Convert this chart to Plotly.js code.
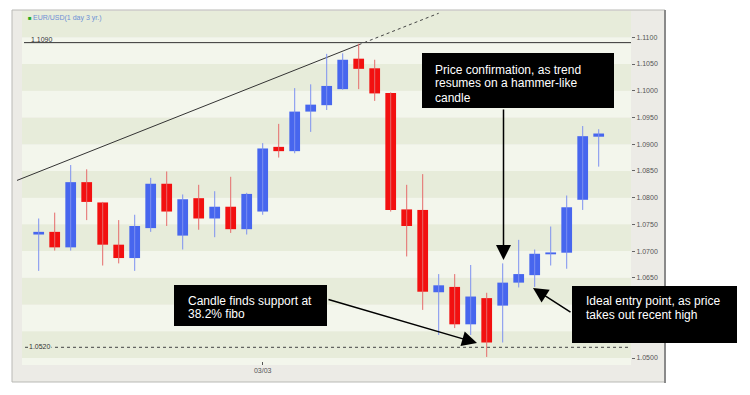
<!DOCTYPE html>
<html><head><meta charset="utf-8">
<script src="https://cdn.plot.ly/plotly-3.0.1.min.js"></script>
<style>html,body{margin:0;padding:0;background:#fff;}#chart{width:750px;height:395px;}</style>
</head><body><div id="chart"></div>
<script>
// ---- data (EUR/USD daily candles) ----
const openP  = [1.0731,1.0736,1.0707,1.0829,1.0791,1.0712,1.0687,1.0743,1.0826,1.0729,1.0799,1.0761,1.0783,1.0741,1.0774,1.0895,1.0887,1.0961,1.0973,1.1003,1.1060,1.1042,1.0996,1.0778,1.0777,1.0623,1.0633,1.0563,1.0612,1.0598,1.0641,1.0655,1.0694,1.0697,1.0796,1.0914];
const highP  = [1.0761,1.0772,1.0861,1.0853,1.0792,1.0758,1.0768,1.0837,1.0849,1.0806,1.0824,1.0812,1.0839,1.0809,1.0902,1.0938,1.1005,1.1012,1.1069,1.1070,1.1088,1.1058,1.0997,1.0824,1.0844,1.0657,1.0657,1.0674,1.0622,1.0677,1.0721,1.0703,1.0746,1.0804,1.0934,1.0928];
const lowP   = [1.0663,1.0701,1.0701,1.0758,1.0673,1.0677,1.0663,1.0736,1.0747,1.0703,1.0740,1.0726,1.0734,1.0731,1.0768,1.0875,1.0883,1.0923,1.0964,1.1002,1.1003,1.0981,1.0774,1.0690,1.0590,1.0543,1.0556,1.0543,1.0502,1.0529,1.0632,1.0633,1.0673,1.0667,1.0777,1.0858];
const closeP = [1.0736,1.0707,1.0829,1.0792,1.0712,1.0687,1.0747,1.0826,1.0774,1.0797,1.0761,1.0783,1.0741,1.0807,1.0892,1.0887,1.0961,1.0974,1.1009,1.1058,1.1041,1.0995,1.0777,1.0747,1.0624,1.0636,1.0563,1.0615,1.0529,1.0641,1.0657,1.0695,1.0697,1.0782,1.0915,1.0920];

// visible price-axis labels (1.0550 and 1.0600 are hidden behind a callout in the original)
const yTickValues = [1.050,1.065,1.070,1.075,1.080,1.085,1.090,1.095,1.100,1.105,1.110];
const yTickLabels = ['1.0500','1.0650','1.0700','1.0750','1.0800','1.0850','1.0900','1.0950','1.1000','1.1050','1.1100'];
const bandLevels = [1.045,1.050,1.055,1.060,1.065,1.070,1.075,1.080,1.085,1.090,1.095,1.100,1.105,1.110,1.115];
const xTickIndex = [14];
const xTickLabels = ['03/03'];

const levelValues = [1.1090, 1.0520];
const levelLabels = ['1.1090', '1.0520'];

const trendX = [-1.375, 20];
const trendY = [1.0832, 1.1086];
const trendExtX = [20, 25];
const trendExtY = [1.1086, 1.1145];

const seriesName = 'EUR/USD(1 day 3 yr.)';

// ---- layout geometry ----
const PL = 17, PR = 631, PT = 11, PB = 365;
const PW = PR - PL, PH = PB - PT;
const px = p => (p - PL) / PW;
const py = p => (PB - p) / PH;

const FONT = 'Liberation Sans, Arial, sans-serif';
const BLUE = '#4766ee', RED = '#f21010';
const BLUE_W = '#7d91f0', RED_W = '#e56a6a';

// build candles
const up = {x:[], base:[], h:[]}, dn = {x:[], base:[], h:[]};
const wUp = {x:[], y:[]}, wDn = {x:[], y:[]};
for (let i = 0; i < openP.length; i++) {
  const o = openP[i], c = closeP[i];
  const isUp = c >= o;
  const b = isUp ? up : dn, w = isUp ? wUp : wDn;
  b.x.push(i); b.base.push(Math.min(o, c)); b.h.push(Math.max(Math.abs(c - o), 0.00035));
  w.x.push(i, i, null); w.y.push(lowP[i], highP[i], null);
}

const traces = [
  {type:'scatter', mode:'lines', x:trendX, y:trendY, line:{color:'#333', width:1}, hoverinfo:'skip'},
  {type:'scatter', mode:'lines', x:trendExtX, y:trendExtY, line:{color:'#444', width:1, dash:'3px,3px'}, hoverinfo:'skip'},
  {type:'scatter', mode:'lines', x:wUp.x, y:wUp.y, line:{color:BLUE_W, width:1}, connectgaps:false},
  {type:'scatter', mode:'lines', x:wDn.x, y:wDn.y, line:{color:RED_W, width:1}, connectgaps:false},
  {type:'bar', x:up.x, y:up.h, base:up.base, width:0.67, marker:{color:BLUE, line:{width:0}}},
  {type:'bar', x:dn.x, y:dn.h, base:dn.base, width:0.67, marker:{color:RED, line:{width:0}}}
];

const shapes = [];
// panel
shapes.push({type:'rect', xref:'paper', yref:'paper', x0:px(12), x1:px(665), y0:py(382), y1:py(10),
  fillcolor:'#ecebe6', line:{color:'#b9b9b5', width:1}, layer:'below'});
shapes.push({type:'line', xref:'paper', yref:'paper', x0:px(665), x1:px(665), y0:py(383), y1:py(10),
  line:{color:'#8a8a8a', width:2}, layer:'below'});
// bands
for (let k = 0; k < bandLevels.length - 1; k++) {
  shapes.push({type:'rect', xref:'paper', yref:'y', x0:px(22), x1:1, y0:bandLevels[k], y1:bandLevels[k+1],
    fillcolor: (k % 2 === 1) ? '#e7ecda' : '#f3f6ec', line:{width:0}, layer:'below'});
}
// levels
shapes.push({type:'line', xref:'paper', yref:'y', x0:px(24), x1:1, y0:levelValues[0], y1:levelValues[0],
  line:{color:'#333', width:1}, layer:'below'});
shapes.push({type:'line', xref:'paper', yref:'y', x0:px(25), x1:1, y0:levelValues[1], y1:levelValues[1],
  line:{color:'#444', width:1, dash:'3px,3px'}, layer:'below'});
// callout boxes
const boxes = [[422,53,614,108],[174,285,327,326],[572,286,737,343]];
boxes.forEach(b => shapes.push({type:'rect', xref:'paper', yref:'paper', x0:px(b[0]), x1:px(b[2]),
  y0:py(b[3]), y1:py(b[1]), fillcolor:'#000', line:{width:0}, layer:'above'}));

const annotations = [];
const txt = (x, y, t, size, color, extra) => annotations.push(Object.assign({xref:'paper', yref:'paper',
  x:px(x), y:py(y), text:t, showarrow:false, xanchor:'left', yanchor:'middle',
  font:{family:FONT, size:size, color:color}}, extra||{}));

// callout text
txt(433, 69.5, 'Price confirmation, as trend', 12, '#fff');
txt(433, 83.5, 'resumes on a hammer-like', 12, '#fff');
txt(433, 97.5, 'candle', 12, '#fff');
txt(186, 300.5, 'Candle finds support at', 12, '#fff');
txt(186, 314, '38.2% fibo', 12, '#fff');
txt(584, 301, 'Ideal entry point, as price', 12, '#fff');
txt(584, 314.5, 'takes out recent high', 12, '#fff');

// legend-like label
txt(25.5, 17.5, '■', 6, '#22aa22');
txt(31, 17.5, seriesName, 7, '#6d8fd6');
// level labels
txt(29, 40, levelLabels[0], 7, '#333');
txt(28, 346.5, levelLabels[1], 7, '#333', {bgcolor:'#e7ecda', borderpad:0});

// arrows
const arrow = (tx, ty, sx, sy) => annotations.push({xref:'paper', yref:'paper', x:px(tx), y:py(ty),
  ax:sx - tx, ay:sy - ty, axref:'pixel', ayref:'pixel', text:'', showarrow:true,
  arrowhead:2, arrowsize:2, arrowwidth:1.5, arrowcolor:'#000', standoff:0, startstandoff:0});
arrow(503.5, 260, 503.5, 108);
arrow(477, 343, 327, 299);
arrow(533, 288, 572, 313);

const layout = {
  width:750, height:395,
  margin:{l:PL, r:750-PR, t:PT, b:395-PB, pad:0},
  paper_bgcolor:'#ffffff', plot_bgcolor:'#ecebe6',
  showlegend:false, barmode:'overlay', hovermode:false,
  font:{family:FONT},
  xaxis:{range:[(PL-38.7)/16, (PR-38.7)/16], tickvals:xTickIndex, ticktext:xTickLabels,
    ticks:'inside', ticklen:3, tickcolor:'#555', tickfont:{size:7, color:'#555', family:FONT},
    showgrid:false, zeroline:false, showline:false, fixedrange:true},
  yaxis:{side:'right', range:[1.04869, 1.11492], tickvals:yTickValues, ticktext:yTickLabels,
    ticks:'outside', ticklen:3, tickcolor:'#666', tickfont:{size:7, color:'#555', family:FONT},
    showgrid:false, zeroline:false, showline:false, fixedrange:true},
  shapes:shapes, annotations:annotations
};

Plotly.newPlot('chart', traces, layout, {staticPlot:true, displayModeBar:false});
</script></body></html>
